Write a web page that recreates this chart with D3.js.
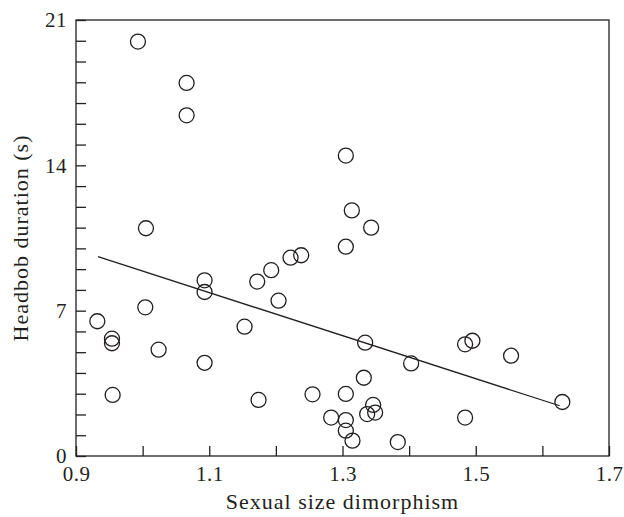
<!DOCTYPE html>
<html>
<head>
<meta charset="utf-8">
<script src="https://cdn.jsdelivr.net/npm/d3@7"></script>
<style>
  body { margin: 0; background: #fff; }
</style>
</head>
<body>
<svg id="graph" width="624" height="517"></svg>
<script>
// datos
var dimorfismo = [0.993, 1.066, 1.066, 1.305, 1.314, 1.005, 1.343, 1.305, 1.222, 1.238,
    1.193, 1.093, 1.172, 1.093, 1.204, 1.004, 0.932, 1.153, 0.954, 0.954,
    1.334, 1.484, 1.495, 1.024, 1.553, 1.093, 1.403, 1.332, 0.955, 1.174,
    1.255, 1.305, 1.346, 1.337, 1.349, 1.283, 1.305, 1.484, 1.305, 1.315,
    1.383, 1.630];
var duracion = [19.96, 17.97, 16.41, 14.47, 11.83, 10.97, 11.0, 10.08, 9.55, 9.67,
    8.95, 8.46, 8.4, 7.9, 7.48, 7.16, 6.49, 6.23, 5.65, 5.43,
    5.46, 5.38, 5.55, 5.12, 4.83, 4.49, 4.46, 3.77, 2.94, 2.70,
    2.97, 2.99, 2.46, 2.02, 2.09, 1.85, 1.73, 1.85, 1.22, 0.74,
    0.67, 2.60];
// recta de regresion (extremos)
var rectaX = [0.933, 1.626];
var rectaY = [9.6, 2.42];
var ticksX = [0.9, 1.0, 1.1, 1.2, 1.3, 1.4, 1.5, 1.6, 1.7];
var etiquetasX = [0.9, 1.1, 1.3, 1.5, 1.7];
var ticksY = d3.range(0, 22, 1);
var etiquetasY = [0, 7, 14, 21];

var fuente = "Liberation Serif";
var svg = d3.select("#graph");
var margin = { top: 20, right: 15, bottom: 61, left: 76 };
var width = +svg.attr("width") - margin.left - margin.right;
var height = +svg.attr("height") - margin.top - margin.bottom;
var g = svg.append("g").attr("transform", "translate(" + margin.left + "," + margin.top + ")");
var color = "#231f20";

var x = d3.scaleLinear().domain([0.9, 1.7]).range([0, width]);
var y = d3.scaleLinear().domain([0, 21]).range([height, 0]);

// marco
g.append("rect")
    .attr("width", width)
    .attr("height", height)
    .attr("fill", "none")
    .attr("stroke", color)
    .attr("stroke-width", 1.3);

// eje x: ticks hacia adentro
var ejeX = g.append("g").attr("transform", "translate(0," + height + ")")
    .call(d3.axisBottom(x).tickValues(ticksX).tickSize(-10).tickSizeOuter(0)
        .tickFormat(d => etiquetasX.some(e => Math.abs(e - d) < 1e-9) ? d3.format(".1f")(d) : ""));
ejeX.select(".domain").remove();
ejeX.selectAll("line").attr("stroke", color).attr("stroke-width", 1.3);
ejeX.selectAll("text").attr("dy", null).attr("y", 25);

// eje y
var ejeY = g.append("g")
    .call(d3.axisLeft(y).tickValues(ticksY).tickSize(-10).tickSizeOuter(0)
        .tickFormat(d => etiquetasY.indexOf(d) >= 0 ? d : ""));
ejeY.select(".domain").remove();
ejeY.selectAll("line").attr("stroke", color).attr("stroke-width", 1.3);
ejeY.selectAll("text").attr("x", -9);
ejeX.attr("font-family", fuente).attr("font-size", 21);
ejeY.attr("font-family", fuente).attr("font-size", 21);
svg.selectAll(".tick text").attr("fill", color).attr("letter-spacing", 0.5);

// titulos
svg.append("text")
    .attr("x", margin.left + width / 2)
    .attr("y", 509)
    .attr("text-anchor", "middle")
    .attr("font-family", fuente)
    .attr("font-size", 22)
    .attr("letter-spacing", 1)
    .attr("fill", color)
    .text("Sexual size dimorphism");
svg.append("text")
    .attr("transform", "translate(28," + (margin.top + height / 2) + ") rotate(-90)")
    .attr("text-anchor", "middle")
    .attr("font-family", fuente)
    .attr("font-size", 22)
    .attr("letter-spacing", 1)
    .attr("fill", color)
    .text("Headbob duration (s)");

// recta
g.append("line")
    .attr("x1", x(rectaX[0])).attr("y1", y(rectaY[0]))
    .attr("x2", x(rectaX[1])).attr("y2", y(rectaY[1]))
    .attr("stroke", color)
    .attr("stroke-width", 1.3);

// puntos
g.append("g").selectAll("circle")
    .data(dimorfismo)
    .enter().append("circle")
    .attr("cx", d => x(d))
    .attr("cy", (d, i) => y(duracion[i]))
    .attr("r", 7.5)
    .attr("fill", "none")
    .attr("stroke", color)
    .attr("stroke-width", 1.3);
</script>
</body>
</html>
